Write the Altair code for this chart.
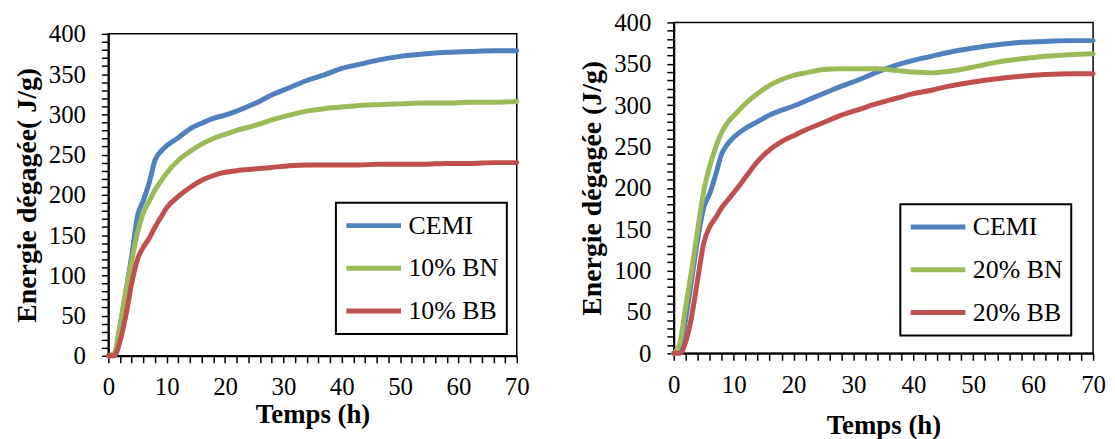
import altair as alt
import pandas as pd

# ---- data ----
t = [0, 1, 2, 3, 4, 5, 6, 7, 8, 9, 10, 12, 14, 16, 18, 20, 22, 25, 28, 31,
     34, 37, 40, 43, 46, 50, 54, 58, 62, 66, 70]

left_names = ["CEMI", "10% BN", "10% BB"]
left_cemi = [0, 2, 37, 80, 124, 174, 193, 215, 243, 254, 261, 271, 282, 289, 295, 299,
             304, 313, 324, 333, 342, 349, 357, 362, 367, 372, 375, 377, 378, 379, 379]
left_bn = [0, 3, 37, 80, 118, 153, 178, 192, 206, 217, 227, 243, 254, 263, 270, 275,
           280, 286, 293, 299, 304, 307, 309, 311, 312, 313, 314, 314, 315, 315, 316]
left_bb = [0, 0, 18, 50, 90, 120, 135, 146, 160, 172, 184, 198, 209, 218, 224, 228,
           230, 232, 234, 236, 237, 237, 237, 237, 238, 238, 238, 239, 239, 240, 240]

right_names = ["CEMI", "20% BN", "20% BB"]
right_cemi = [0, 5, 42, 90, 138, 176, 193, 216, 241, 253, 261, 272, 280, 288, 294, 299,
              305, 314, 323, 331, 340, 348, 354, 359, 364, 369, 373, 376, 377, 378, 378]
right_bn = [0, 12, 57, 101, 150, 196, 226, 249, 267, 279, 287, 302, 314, 324, 331, 336,
            339, 343, 344, 344, 344, 342, 340, 339, 341, 346, 352, 356, 359, 361, 362]
right_bb = [0, 0, 14, 45, 90, 133, 153, 164, 176, 185, 194, 213, 232, 246, 256, 263,
            270, 279, 288, 295, 302, 308, 314, 318, 323, 328, 332, 335, 337, 338, 338]

x_ticks = list(range(0, 71, 2))
y_ticks = list(range(0, 401, 10))
colors = ["#4F81BD", "#9BBB59", "#C0504D"]

FONT = "Liberation Serif"


def long_df(names, series):
    rows = []
    for name, vals in zip(names, series):
        for tt, v in zip(t, vals):
            rows.append({"t": tt, "E": v, "serie": name})
    return pd.DataFrame(rows)


def panel(names, series, ytitle, w, h, lx, ly, xtitle_pad):
    df = long_df(names, series)
    return alt.Chart(df).mark_line(
        strokeWidth=5, interpolate="monotone", strokeCap="round", strokeJoin="round"
    ).encode(
        x=alt.X("t:Q",
                scale=alt.Scale(domain=[0, 70], nice=False, zero=True),
                axis=alt.Axis(values=x_ticks,
                              labelExpr="datum.value % 10 === 0 ? datum.label : ''",
                              title="Temps (h)", titlePadding=xtitle_pad,
                              titleFontSize=27, labelPadding=12)),
        y=alt.Y("E:Q",
                scale=alt.Scale(domain=[0, 400], nice=False),
                axis=alt.Axis(values=y_ticks,
                              labelExpr="datum.value % 50 === 0 ? datum.label : ''",
                              title=ytitle, titlePadding=7, titleFontSize=28,
                              labelPadding=16)),
        color=alt.Color("serie:N",
                        scale=alt.Scale(domain=names, range=colors),
                        sort=names,
                        legend=alt.Legend(orient="none", legendX=lx, legendY=ly,
                                          title=None)),
        order=alt.Order("t:Q"),
    ).properties(width=w, height=h)


left = panel(left_names, [left_cemi, left_bn, left_bb],
             "Energie dégagée( J/g)", 411, 324, 229, 170, 2)
right = panel(right_names, [right_cemi, right_bn, right_bb],
              "Energie dégagée (J/g)", 422, 333, 228, 183, 16)

chart = alt.hconcat(left, right, spacing=47, center=True).resolve_scale(
    color="independent"
).properties(
    padding={"left": 4, "top": 0, "right": 0, "bottom": 0}
).configure(
    font=FONT
).configure_view(
    stroke="black", strokeWidth=1.5
).configure_axis(
    grid=False,
    domainColor="black", domainWidth=2,
    tickColor="black", tickWidth=1.5, tickSize=7,
    labelFont=FONT, labelFontSize=25, labelColor="black",
    labelOverlap=False, labelFlush=False, labelBound=False,
    titleFont=FONT, titleFontWeight="bold", titleColor="black",
).configure_legend(
    fillColor="white", strokeColor="black", strokeWidth=2,
    padding=8, symbolType="stroke", symbolStrokeWidth=5, symbolSize=3025,
    labelFont=FONT, labelFontSize=26, labelColor="black", labelLimit=0,
    labelOffset=5, rowPadding=13, clipHeight=30,
)

chart.save("out.html", embed_options={"renderer": "svg", "actions": False})
